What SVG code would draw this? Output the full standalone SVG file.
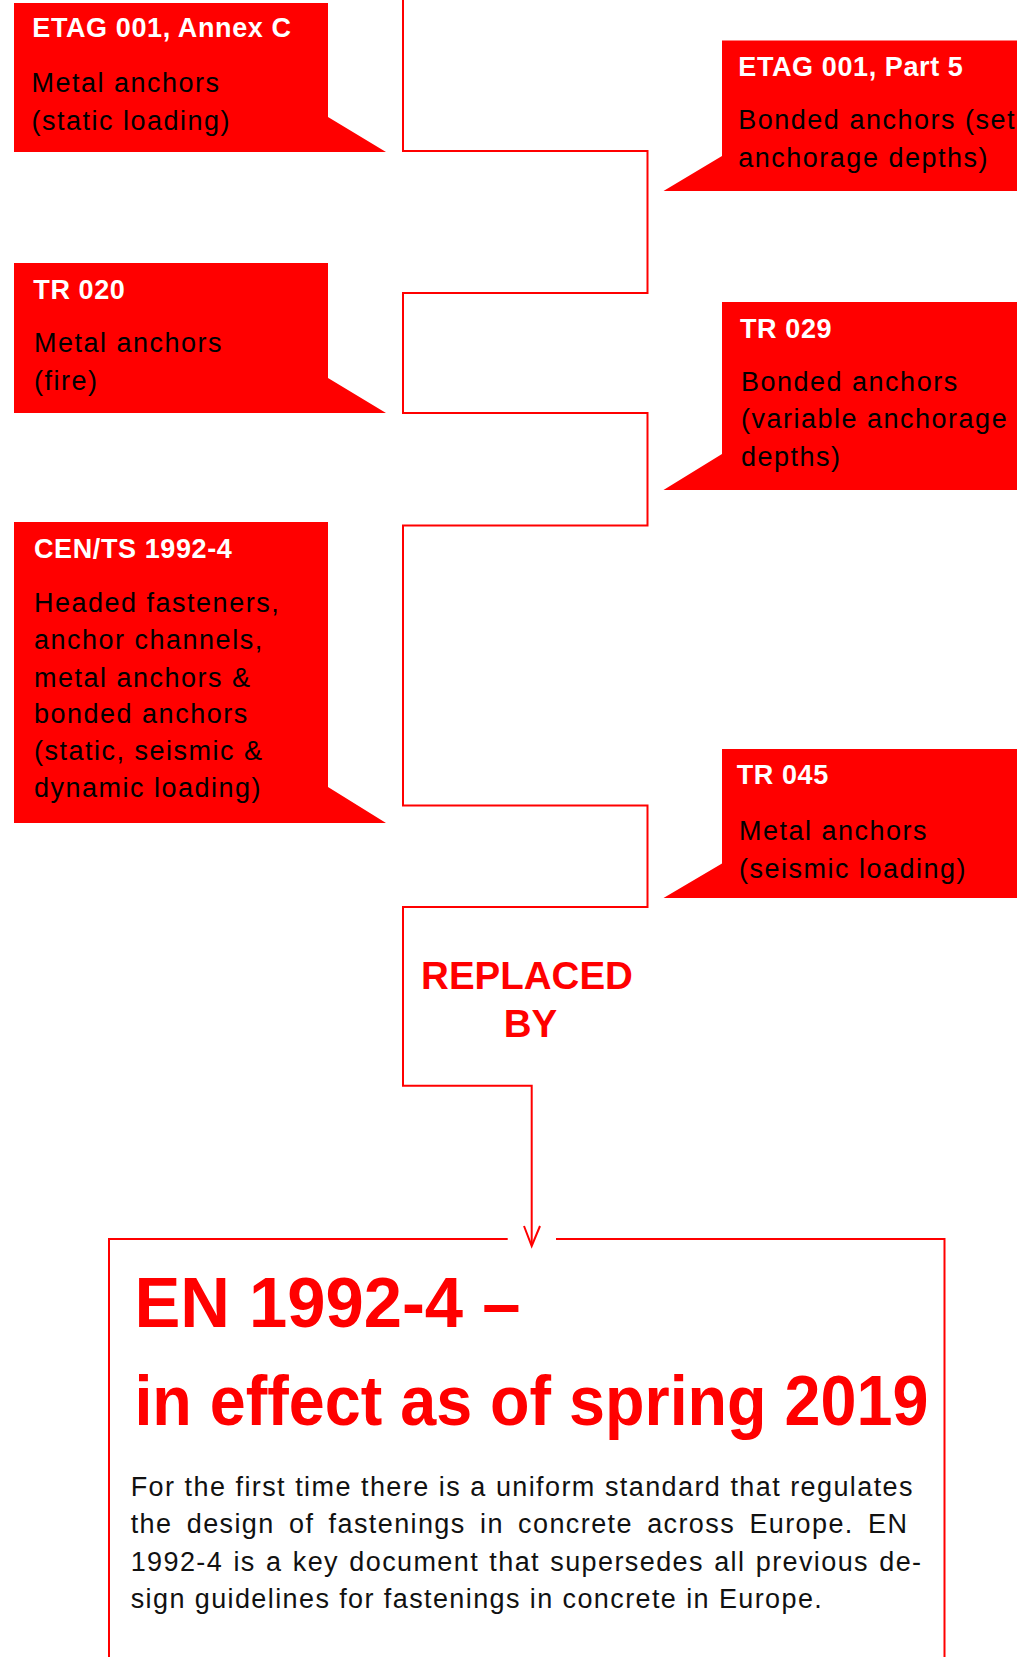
<svg xmlns="http://www.w3.org/2000/svg" width="1017" height="1657" viewBox="0 0 1017 1657">
<style>
.box{fill:#FF0000}
.ttl{font-family:"Liberation Sans",Arial,sans-serif;font-weight:bold;font-size:27px;fill:#FFFFFF;letter-spacing:0.6px}
.bd{font-family:"Liberation Sans",Arial,sans-serif;font-size:27px;fill:#000000;letter-spacing:1.5px}
.conn{fill:none;stroke:#FF0000;stroke-width:2}
.rep{font-family:"Liberation Sans",Arial,sans-serif;font-weight:bold;font-size:38.5px;fill:#FF0000;text-anchor:middle}
.head{font-family:"Liberation Sans",Arial,sans-serif;font-weight:bold;font-size:70px;fill:#FF0000}
.para{font-family:"Liberation Sans",Arial,sans-serif;font-size:27px;fill:#111111;letter-spacing:1.4px}
</style>
<rect width="1017" height="1657" fill="#FFFFFF"/>
<g id="connectors">
<path class="conn" d="M403,0 V151 H647.5 V293 H403 V413 H647.5 V525.5 H403 V805.5 H647.5 V907 H403 V1085.7 H531.7 V1245"/>
<polyline class="conn" points="524,1226 531.7,1246 540,1226"/>
</g>
<g id="etag001-annexc">
<polygon class="box" points="14,3 328,3 328,117 386,152 14,152"/>
<text class="ttl" x="32.3" y="36.7">ETAG 001, Annex C</text>
<text class="bd" x="31.5" y="91.7">Metal anchors</text>
<text class="bd" x="31.5" y="130">(static loading)</text>
</g>
<g id="etag001-part5">
<polygon class="box" points="722,40.5 1017,40.5 1017,191 663.5,191 722,156"/>
<text class="ttl" x="738.3" y="75.7">ETAG 001, Part 5</text>
<text class="bd" x="738.3" y="129.3">Bonded anchors (set</text>
<text class="bd" x="738.3" y="167.3">anchorage depths)</text>
</g>
<g id="tr020">
<polygon class="box" points="14,263 328,263 328,378 386,413 14,413"/>
<text class="ttl" x="33.3" y="299.3">TR 020</text>
<text class="bd" x="34" y="351.7">Metal anchors</text>
<text class="bd" x="34" y="390">(fire)</text>
</g>
<g id="tr029">
<polygon class="box" points="722,302 1017,302 1017,490 663.5,490 722,454"/>
<text class="ttl" x="740" y="337.7">TR 029</text>
<text class="bd" x="741" y="390.7">Bonded anchors</text>
<text class="bd" x="741" y="428.3">(variable anchorage</text>
<text class="bd" x="741" y="465.7">depths)</text>
</g>
<g id="cents1992-4">
<polygon class="box" points="14,522 328,522 328,787 386,823 14,823"/>
<text class="ttl" x="34" y="557.7">CEN/TS 1992-4</text>
<text class="bd" x="34" y="611.7">Headed fasteners,</text>
<text class="bd" x="34" y="649.3">anchor channels,</text>
<text class="bd" x="34" y="686.7">metal anchors &amp;</text>
<text class="bd" x="34" y="723.3">bonded anchors</text>
<text class="bd" x="34" y="760">(static, seismic &amp;</text>
<text class="bd" x="34" y="797.3">dynamic loading)</text>
</g>
<g id="tr045">
<polygon class="box" points="722,749 1017,749 1017,898 663.5,898 722,863.5"/>
<text class="ttl" x="736.7" y="784.3">TR 045</text>
<text class="bd" x="739" y="840">Metal anchors</text>
<text class="bd" x="739" y="878.3">(seismic loading)</text>
</g>
<g id="replaced-by">
<text class="rep" x="527" y="989.3">REPLACED</text>
<text class="rep" x="530.5" y="1036.7">BY</text>
</g>
<g id="en1992-4">
<path class="conn" d="M507.7,1239 H109 V1660 M556,1239 H944.5 V1660"/>
<text class="head" x="134.4" y="1326.7" textLength="386" lengthAdjust="spacingAndGlyphs">EN 1992-4 –</text>
<text class="head" x="134.4" y="1425" textLength="794" lengthAdjust="spacingAndGlyphs">in effect as of spring 2019</text>
<text class="para" x="130.7" y="1496" word-spacing="0.3">For the first time there is a uniform standard that regulates</text>
<text class="para" x="130.7" y="1533.3" word-spacing="5.4">the design of fastenings in concrete across Europe. EN</text>
<text class="para" x="130.7" y="1571" word-spacing="1.4">1992-4 is a key document that supersedes all previous de-</text>
<text class="para" x="130.7" y="1607.7">sign guidelines for fastenings in concrete in Europe.</text>
</g>
</svg>
